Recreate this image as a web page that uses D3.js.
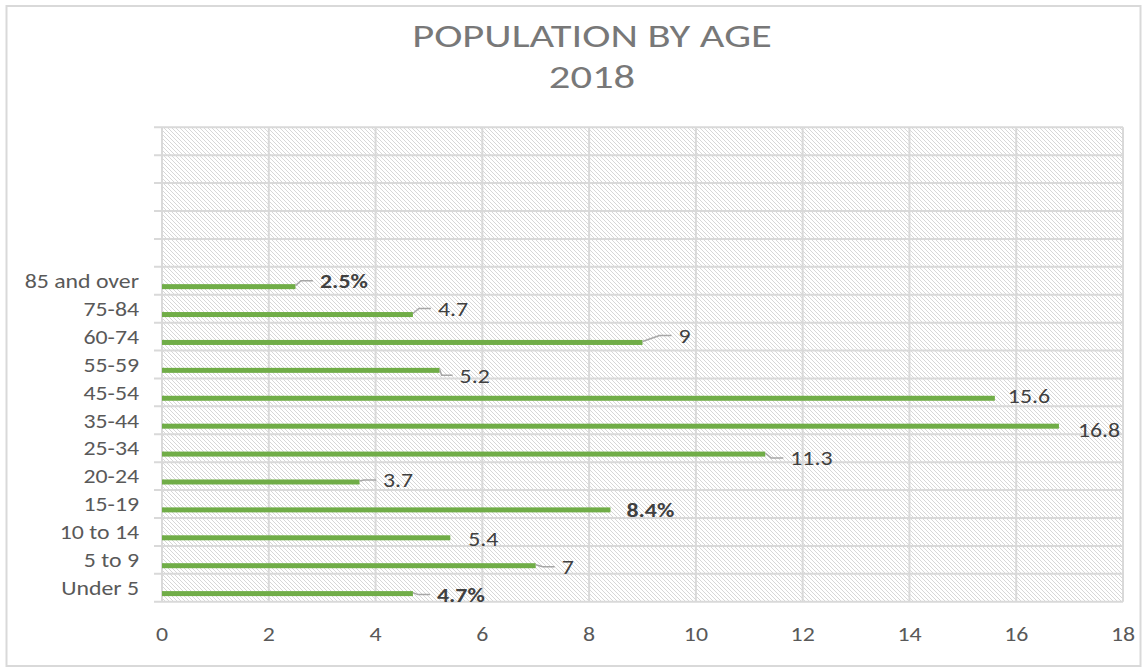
<!DOCTYPE html>
<html>
<head>
<meta charset="utf-8">
<script src="https://cdn.jsdelivr.net/npm/d3@7/dist/d3.min.js"></script>
<style>
  html, body { margin: 0; padding: 0; background: #fff; }
  svg { display: block; font-family: Calibri, Carlito, Lato, sans-serif; }
</style>
</head>
<body>
<svg id="chart" width="1147" height="672"></svg>
<script>
// Population share by age group, 2018 (bottom to top)
const categories = ["Under 5", "5 to 9", "10 to 14", "15-19", "20-24", "25-34",
                    "35-44", "45-54", "55-59", "60-74", "75-84", "85 and over"];
const values = [4.7, 7, 5.4, 8.4, 3.7, 11.3, 16.8, 15.6, 5.2, 9, 4.7, 2.5];
const labelTexts = ["4.7%", "7", "5.4", "8.4%", "3.7", "11.3",
                    "16.8", "15.6", "5.2", "9", "4.7", "2.5%"];
const boldLabelIdx = [0, 3, 11];
const xTicks = [0, 2, 4, 6, 8, 10, 12, 14, 16, 18];
const emptySlots = 5;            // unused category slots above the last group
const titleLines = ["POPULATION BY AGE", "2018"];

// label placement relative to the bar end / bar centre (dx to label's left edge, dy to its middle)
const labelOffsets = [[24, 1], [26, 1], [18, 1], [16, 0], [23.5, -2], [25, 4],
                      [19, 4], [13, -2], [20, 5], [36, -7], [25, -6], [24.5, -6]];

const svg = d3.select("#chart");
const plot = { left: 162, right: 1123, top: 127.3, bottom: 601.7 };
const textStretch = 1.19;        // horizontal stretch of all chart text

const slotCount = categories.length + emptySlots;
const x = d3.scaleLinear().domain([0, 18]).range([plot.left, plot.right]);
const y = d3.scaleBand().domain(d3.range(slotCount))
  .range([plot.bottom, plot.top]).paddingInner(0).paddingOuter(0);
const band = y.bandwidth();

// places text at (tx, ty) with a horizontal stretch
function stretched(sel, tx, ty, s) {
  return sel.attr("x", 0).attr("y", 0)
    .attr("transform", (d, i) => `translate(${tx(d, i)},${ty(d, i)}) scale(${s},1)`);
}

// chart frame
svg.append("rect")
  .attr("x", 6.5).attr("y", 6).attr("width", 1134).attr("height", 660)
  .attr("fill", "#fff").attr("stroke", "#d9d9d9").attr("stroke-width", 2);

// hatch fill pattern for the plot area
const defs = svg.append("defs");
const pat = defs.append("pattern").attr("id", "hatch")
  .attr("patternUnits", "userSpaceOnUse").attr("width", 4).attr("height", 4);
pat.append("rect").attr("width", 4).attr("height", 4).attr("fill", "#fff");
pat.append("path").attr("d", "M-1,-1 L5,5 M-1,3 L1,5 M3,-1 L5,1")
  .attr("stroke", "#d2d2d2").attr("stroke-width", 0.9);

svg.append("rect")
  .attr("x", plot.left).attr("y", plot.top)
  .attr("width", plot.right - plot.left).attr("height", plot.bottom - plot.top)
  .attr("fill", "url(#hatch)");

// gridlines
const grid = svg.append("g").attr("stroke", "#d9d9d9").attr("stroke-width", 2);
grid.selectAll("line.v").data(xTicks).join("line").attr("class", "v")
  .attr("x1", d => x(d)).attr("x2", d => x(d))
  .attr("y1", plot.top).attr("y2", plot.bottom);
const bounds = d3.range(slotCount).map(i => y(i)).concat([plot.bottom]);
grid.selectAll("line.h").data(bounds).join("line").attr("class", "h")
  .attr("x1", plot.left - 8).attr("x2", plot.right)
  .attr("y1", d => d).attr("y2", d => d);

// x axis labels
stretched(svg.append("g").selectAll("text").data(xTicks).join("text"),
    d => x(d), () => 641, textStretch)
  .attr("text-anchor", "middle").attr("fill", "#595959")
  .attr("font-size", 20).text(d => d);

// category labels
stretched(svg.append("g").selectAll("text").data(categories).join("text"),
    () => 139, (d, i) => y(i) + band / 2 + 7.2, textStretch)
  .attr("text-anchor", "end").attr("fill", "#595959")
  .attr("font-size", 20).text(d => d);

// bars
const barH = 5;
const barMid = i => y(i) + band * 0.71;
svg.append("g").selectAll("rect").data(values).join("rect")
  .attr("x", x(0)).attr("y", (d, i) => barMid(i) - barH / 2)
  .attr("width", d => x(d) - x(0)).attr("height", barH)
  .attr("fill", "#70ad47");

// data labels with leader lines
const lab = svg.append("g");
values.forEach((v, i) => {
  const [dx, dy] = labelOffsets[i];
  const x0 = x(v), y0 = barMid(i);
  const lx = x0 + dx, ly = y0 + dy;
  if (dx >= 20) {
    const end = lx - 7, mid = Math.max(x0 + 2, end - 12);
    lab.append("path")
      .attr("d", `M${x0},${y0 - 1}L${mid},${ly}L${end},${ly}`)
      .attr("fill", "none").attr("stroke", "#a6a6a6").attr("stroke-width", 1.5);
  }
  lab.append("text")
    .attr("transform", `translate(${lx},${ly + 7.2}) scale(${textStretch},1)`)
    .attr("fill", "#404040").attr("font-size", 20)
    .attr("font-weight", boldLabelIdx.includes(i) ? "bold" : "normal")
    .text(labelTexts[i]);
});

// title
stretched(svg.append("g").selectAll("text").data(titleLines).join("text"),
    () => 592, (d, i) => 47 + i * 41, 1.33)
  .attr("text-anchor", "middle").attr("fill", "#787878")
  .attr("font-size", 32).text(d => d);
</script>
</body>
</html>
